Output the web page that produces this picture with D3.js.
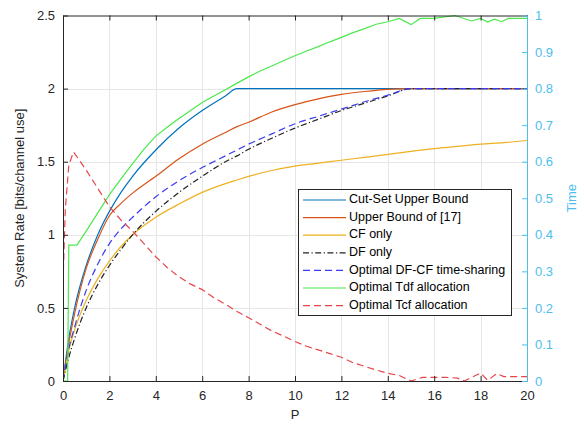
<!DOCTYPE html>
<html>
<head>
<meta charset="utf-8">
<script src="https://cdn.jsdelivr.net/npm/d3@7"></script>
<style>
  body { margin: 0; background: #fff; }
  svg { font-family: "Liberation Sans", Arial, sans-serif; }
</style>
</head>
<body>
<svg id="chart" width="584" height="424"></svg>
<script>
// ----------- DATA -----------
var pRate = [0, 0.25, 0.5, 1, 1.5, 2, 2.5, 3, 4, 5, 6, 7, 7.5, 8, 9, 10, 11, 12, 13, 14, 15, 16, 17, 18, 19, 20];

var cutSet   = [0, 0.29, 0.5, 0.79, 1.0, 1.16, 1.29, 1.40, 1.58, 1.73, 1.85, 1.95, 2.0, 2.0, 2.0, 2.0, 2.0, 2.0, 2.0, 2.0, 2.0, 2.0, 2.0, 2.0, 2.0, 2.0];
var upper17  = [0, 0.26, 0.46, 0.77, 0.97, 1.13, 1.215, 1.285, 1.40, 1.52, 1.62, 1.70, 1.74, 1.77, 1.84, 1.89, 1.93, 1.96, 1.98, 1.995, 2.0, 2.0, 2.0, 2.0, 2.0, 2.0];
var cfOnly   = [0, 0.21, 0.35, 0.55, 0.70, 0.82, 0.92, 1.0, 1.12, 1.21, 1.29, 1.35, 1.375, 1.40, 1.44, 1.47, 1.49, 1.51, 1.53, 1.55, 1.57, 1.59, 1.605, 1.62, 1.63, 1.645];
var dfOnly   = [0, 0.16, 0.29, 0.5, 0.66, 0.79, 0.90, 1.0, 1.16, 1.29, 1.40, 1.5, 1.54, 1.585, 1.66, 1.73, 1.79, 1.85, 1.90, 1.95, 2.0, 2.0, 2.0, 2.0, 2.0, 2.0];
var timeShare = [0, 0.22, 0.37, 0.62, 0.80, 0.94, 1.04, 1.12, 1.26, 1.37, 1.46, 1.54, 1.58, 1.62, 1.69, 1.76, 1.81, 1.86, 1.91, 1.955, 2.0, 2.0, 2.0, 2.0, 2.0, 2.0];

// time allocations (right axis)
var pTdf = [0, 0.2, 0.25, 0.6, 1, 1.5, 2, 2.5, 3, 3.5, 4, 4.5, 5, 5.5, 6, 6.5, 7, 7.5, 8, 8.5, 9, 9.5, 10, 10.5, 11, 11.5, 12, 12.5, 13, 13.5, 14, 14.5, 15, 15.4, 16, 16.9, 17.6, 18, 18.3, 18.6, 18.9, 19.2, 20];
var tdf  = [0, 0, 0.372, 0.372, 0.41, 0.46, 0.51, 0.553, 0.595, 0.635, 0.67, 0.695, 0.718, 0.74, 0.762, 0.78, 0.797, 0.815, 0.832, 0.848, 0.862, 0.876, 0.89, 0.903, 0.915, 0.928, 0.94, 0.953, 0.964, 0.976, 0.983, 0.992, 0.975, 0.992, 0.992, 1.0, 0.985, 0.992, 0.982, 0.99, 0.983, 0.992, 0.992];

var pTcf = [0, 0.1, 0.25, 0.45, 0.75, 1, 1.5, 2, 2.5, 3, 3.5, 4, 4.5, 5, 5.5, 6, 6.5, 7, 7.5, 8, 8.5, 9, 9.5, 10, 10.5, 11, 11.5, 12, 12.5, 13, 13.5, 14, 14.5, 15, 15.5, 16, 16.5, 17, 17.3, 18, 18.3, 18.7, 19, 20];
var tcf  = [0.27, 0.47, 0.59, 0.627, 0.6, 0.577, 0.527, 0.477, 0.44, 0.41, 0.375, 0.34, 0.31, 0.285, 0.265, 0.25, 0.228, 0.21, 0.19, 0.173, 0.155, 0.137, 0.123, 0.108, 0.095, 0.085, 0.075, 0.065, 0.05, 0.04, 0.03, 0.021, 0.015, 0.0, 0.01, 0.01, 0.01, 0.008, 0.0, 0.022, 0.002, 0.02, 0.012, 0.012];

var xTicks = d3.range(0, 21, 2);
var yTicks = [0, 0.5, 1, 1.5, 2, 2.5];
var yRightTicks = d3.range(0, 11).map(function(i) { return i / 10; });

var legendLabels = ["Cut-Set Upper Bound", "Upper Bound of [17]", "CF only", "DF only",
  "Optimal DF-CF time-sharing", "Optimal Tdf allocation", "Optimal Tcf allocation"];
// --------------------- END DATA ---------------------

var svg = d3.select("svg"),
  width = +svg.attr("width"),
  height = +svg.attr("height");

// plot box (note: "top" is reserved on window, so use plot* names)
var plotL = 63, plotR = 527, plotT = 15.5, plotB = 381;
var axisCol = "#262626", rightCol = "#4DBEEE";

var x = d3.scaleLinear().domain([0, 20]).range([plotL, plotR]);
var y = d3.scaleLinear().domain([0, 2.5]).range([plotB, plotT]);
var yR = d3.scaleLinear().domain([0, 1]).range([plotB, plotT]);

// series styling
var series = [
  { p: pRate, v: cutSet,    scale: y,  color: "#0072BD", dash: null },
  { p: pRate, v: upper17,   scale: y,  color: "#D95319", dash: null },
  { p: pRate, v: cfOnly,    scale: y,  color: "#EDB120", dash: null },
  { p: pRate, v: dfOnly,    scale: y,  color: "#222222", dash: "6,2.5,1.2,2.5" },
  { p: pRate, v: timeShare, scale: y,  color: "#3b3bf0", dash: "7,4" },
  { p: pTdf,  v: tdf,       scale: yR, color: "#4be84b", dash: null, linear: true },
  { p: pTcf,  v: tcf,       scale: yR, color: "#e8454a", dash: "7,4", linear: true }
];

// ------------------- GRID -------------------
var grid = svg.append("g").attr("stroke", "#e6e6e6").attr("stroke-width", 1);
grid.selectAll("line.vx").data(xTicks.slice(1, -1)).enter().append("line")
  .attr("x1", function(d) { return Math.round(x(d)) + 0.5; })
  .attr("x2", function(d) { return Math.round(x(d)) + 0.5; })
  .attr("y1", plotT).attr("y2", plotB);
grid.selectAll("line.hy").data(yTicks.slice(1, -1)).enter().append("line")
  .attr("y1", function(d) { return Math.round(y(d)) + 0.5; })
  .attr("y2", function(d) { return Math.round(y(d)) + 0.5; })
  .attr("x1", plotL).attr("x2", plotR);

// ------------------- LINES -------------------
svg.append("clipPath").attr("id", "plotclip")
  .append("rect").attr("x", plotL).attr("y", plotT - 2).attr("width", plotR - plotL).attr("height", plotB - plotT + 2);

var lines = svg.append("g").attr("clip-path", "url(#plotclip)");
series.forEach(function(s) {
  var line = d3.line()
    .x(function(d) { return x(d[0]); })
    .y(function(d) { return s.scale(d[1]); })
    .curve(s.linear ? d3.curveLinear : d3.curveMonotoneX);
  lines.append("path")
    .datum(d3.zip(s.p, s.v))
    .attr("d", line)
    .attr("fill", "none")
    .attr("stroke", s.color)
    .attr("stroke-width", 1.2)
    .attr("stroke-dasharray", s.dash);
});

// ------------------- AXES -------------------
var xAxis = d3.axisBottom(x).tickValues(xTicks).tickSizeInner(-5).tickSizeOuter(0).tickPadding(10);
var xTop = d3.axisTop(x).tickValues(xTicks).tickSizeInner(-5).tickSizeOuter(0).tickFormat("");
var yAxis = d3.axisLeft(y).tickValues(yTicks).tickSizeInner(-5).tickSizeOuter(0).tickPadding(8)
  .tickFormat(function(d) { return d; });
var yRight = d3.axisRight(yR).tickValues(yRightTicks).tickSizeInner(-5).tickSizeOuter(0).tickPadding(8)
  .tickFormat(function(d) { return d; });

function styleAxis(g, col) {
  g.select(".domain").attr("stroke", col);
  g.selectAll(".tick line").attr("stroke", col);
  g.selectAll(".tick text").attr("fill", col).style("font-size", "13px");
}

svg.append("g").attr("transform", "translate(0," + plotB + ")").call(xAxis).call(styleAxis, axisCol);
svg.append("g").attr("transform", "translate(0," + plotT + ")").call(xTop).call(styleAxis, axisCol);
svg.append("g").attr("transform", "translate(" + plotL + ",0)").call(yAxis).call(styleAxis, axisCol);
svg.append("g").attr("transform", "translate(" + plotR + ",0)").call(yRight).call(styleAxis, rightCol);

// axis labels
svg.append("text")
  .attr("transform", "translate(21," + ((plotT + plotB) / 2) + ") rotate(-90)")
  .attr("text-anchor", "middle").attr("dominant-baseline", "middle")
  .style("font-size", "13px").attr("fill", axisCol)
  .text("System Rate [bits/channel use]");
svg.append("text")
  .attr("x", (plotL + plotR) / 2).attr("y", 416)
  .attr("text-anchor", "middle").attr("dominant-baseline", "middle")
  .style("font-size", "13px").attr("fill", axisCol)
  .text("P");
svg.append("text")
  .attr("transform", "translate(573," + ((plotT + plotB) / 2) + ") rotate(-90)")
  .attr("text-anchor", "middle").attr("dominant-baseline", "middle")
  .style("font-size", "13px").attr("fill", rightCol)
  .text("Time");

// ------------------- LEGEND -------------------
var lgX = 298, lgY = 189, lgW = 213, lgH = 126, rowH = 17.6;
var legend = svg.append("g");
legend.append("rect")
  .attr("x", lgX + 0.5).attr("y", lgY + 0.5).attr("width", lgW).attr("height", lgH)
  .attr("fill", "#fff").attr("stroke", axisCol).attr("stroke-width", 1);

var rows = legend.selectAll("g.row").data(series).enter().append("g")
  .attr("transform", function(d, i) { return "translate(0," + (lgY + 11 + i * rowH) + ")"; });
rows.append("line")
  .attr("x1", lgX + 5).attr("x2", lgX + 48)
  .attr("stroke", function(d) { return d.color; })
  .attr("stroke-width", 1.2)
  .attr("stroke-dasharray", function(d) { return d.dash; });
rows.append("text")
  .attr("x", lgX + 51).attr("dominant-baseline", "middle")
  .style("font-size", "12.5px").attr("fill", "#000")
  .text(function(d, i) { return legendLabels[i]; });
</script>
</body>
</html>
